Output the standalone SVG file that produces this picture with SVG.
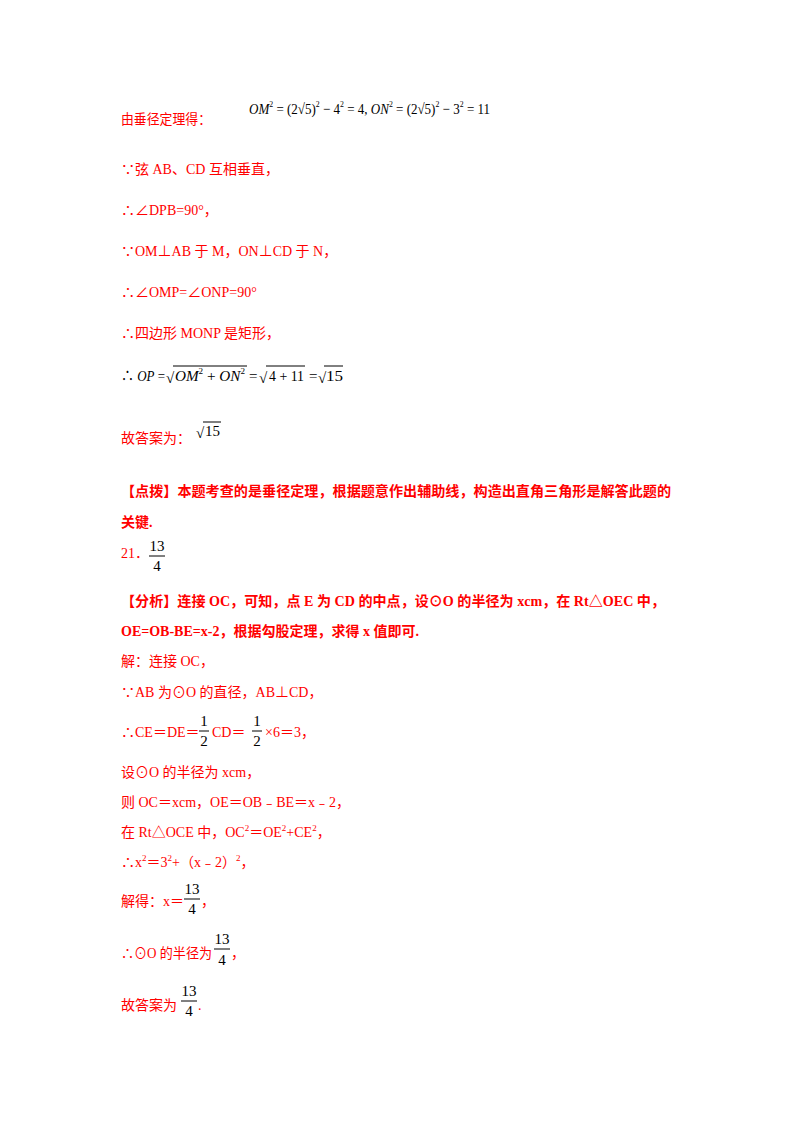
<svg xmlns="http://www.w3.org/2000/svg" width="800" height="1132" viewBox="0 0 800 1132">
<style>
text{font-family:"Liberation Serif","Noto Sans CJK SC",serif;font-size:14px}
.r{fill:#ff0000}
.b{font-weight:bold}
.k{fill:#000;font-size:15px}
.i{font-style:italic}
.s{font-size:9px}
line{stroke:#000;stroke-width:1}
</style>
<rect width="800" height="1132" fill="#fff"/>
<text x="121" y="124" class="r" textLength="90" lengthAdjust="spacingAndGlyphs">由垂径定理得：</text>
<text x="249" y="114" class="k" textLength="241" lengthAdjust="spacingAndGlyphs"><tspan class="i">OM</tspan><tspan class="s" dy="-7">2</tspan><tspan dy="7"> = (2√5)</tspan><tspan class="s" dy="-7">2</tspan><tspan dy="7"> − 4</tspan><tspan class="s" dy="-7">2</tspan><tspan dy="7"> = 4, </tspan><tspan class="i">ON</tspan><tspan class="s" dy="-7">2</tspan><tspan dy="7"> = (2√5)</tspan><tspan class="s" dy="-7">2</tspan><tspan dy="7"> − 3</tspan><tspan class="s" dy="-7">2</tspan><tspan dy="7"> = 11</tspan></text>
<text x="121" y="174" class="r">∵弦 AB、CD 互相垂直，</text>
<text x="121" y="215" class="r">∴∠DPB=90°，</text>
<text x="121" y="256" class="r">∵OM⊥AB 于 M，ON⊥CD 于 N，</text>
<text x="121" y="297" class="r">∴∠OMP=∠ONP=90°</text>
<text x="121" y="338" class="r">∴四边形 MONP 是矩形，</text>
<g class="k">
<text x="121" y="381" class="k" textLength="44" lengthAdjust="spacingAndGlyphs">∴ <tspan class="i">OP</tspan> =</text>
<text x="166" y="383" class="k">√</text>
<text x="175" y="381" class="k" textLength="70" lengthAdjust="spacingAndGlyphs"><tspan class="i">OM</tspan><tspan class="s" dy="-7">2</tspan><tspan dy="7"> + </tspan><tspan class="i">ON</tspan><tspan class="s" dy="-7">2</tspan></text>
<text x="249" y="381" class="k">=</text>
<text x="259" y="383" class="k">√</text>
<text x="269" y="381" class="k" textLength="35" lengthAdjust="spacingAndGlyphs">4 + 11</text>
<text x="309" y="381" class="k">=</text>
<text x="318" y="383" class="k">√</text>
<text x="326" y="381" class="k" textLength="17" lengthAdjust="spacingAndGlyphs">15</text>
</g>
<line x1="173" y1="366" x2="247" y2="366"/><line x1="266" y1="366" x2="305" y2="366"/><line x1="324" y1="366" x2="343" y2="366"/>
<text x="121" y="443" class="r">故答案为：</text>
<text x="196" y="438" class="k">√</text><text x="205" y="436" class="k">15</text><line x1="203" y1="422" x2="221" y2="422"/>
<text x="121" y="496" class="r b" textLength="550" lengthAdjust="spacingAndGlyphs">【点拨】本题考查的是垂径定理，根据题意作出辅助线，构造出直角三角形是解答此题的</text>
<text x="121" y="527" class="r b">关键.</text>
<text x="121" y="558" class="r">21．</text>
<text x="157" y="551" class="k" text-anchor="middle">13</text><line x1="149" y1="556" x2="165" y2="556"/><text x="157" y="571" class="k" text-anchor="middle">4</text>
<text x="121" y="606" class="r b" textLength="544" lengthAdjust="spacingAndGlyphs">【分析】连接 OC，可知，点 E 为 CD 的中点，设⊙O 的半径为 xcm，在 Rt△OEC 中，</text>
<text x="121" y="636" class="r b">OE=OB-BE=x-2，根据勾股定理，求得 x 值即可.</text>
<text x="121" y="666" class="r">解：连接 OC，</text>
<text x="121" y="697" class="r">∵AB 为⊙O 的直径，AB⊥CD，</text>
<text x="121" y="737" class="r">∴CE＝DE＝</text>
<text x="212" y="737" class="r">CD＝</text>
<text x="265" y="737" class="r">×6＝3，</text>
<text x="204" y="726" class="k" text-anchor="middle">1</text><line x1="199" y1="731" x2="209" y2="731"/><text x="204" y="746" class="k" text-anchor="middle">2</text>
<text x="257" y="726" class="k" text-anchor="middle">1</text><line x1="252" y1="731" x2="262" y2="731"/><text x="257" y="746" class="k" text-anchor="middle">2</text>
<text x="121" y="777" class="r">设⊙O 的半径为 xcm，</text>
<text x="121" y="807" class="r">则 OC＝xcm，OE＝OB﹣BE＝x﹣2，</text>
<text x="121" y="837" class="r">在 Rt△OCE 中，OC<tspan class="s" dy="-6">2</tspan><tspan dy="6">＝OE</tspan><tspan class="s" dy="-6">2</tspan><tspan dy="6">+CE</tspan><tspan class="s" dy="-6">2</tspan><tspan dy="6">，</tspan></text>
<text x="121" y="867" class="r">∴x<tspan class="s" dy="-6">2</tspan><tspan dy="6">＝3</tspan><tspan class="s" dy="-6">2</tspan><tspan dy="6">+（x﹣2）</tspan><tspan class="s" dy="-6">2</tspan><tspan dy="6">，</tspan></text>
<text x="121" y="906" class="r">解得：x＝</text><text x="201" y="906" class="r">，</text>
<text x="192" y="894" class="k" text-anchor="middle">13</text><line x1="184" y1="899" x2="200" y2="899"/><text x="192" y="914" class="k" text-anchor="middle">4</text>
<text x="121" y="958" class="r" textLength="91" lengthAdjust="spacingAndGlyphs">∴⊙O 的半径为</text><text x="231" y="958" class="r">，</text>
<text x="222" y="944" class="k" text-anchor="middle">13</text><line x1="214" y1="949" x2="230" y2="949"/><text x="222" y="965" class="k" text-anchor="middle">4</text>
<text x="121" y="1010" class="r">故答案为</text><text x="198" y="1010" class="r">.</text>
<text x="189" y="996" class="k" text-anchor="middle">13</text><line x1="181" y1="1001" x2="197" y2="1001"/><text x="189" y="1016" class="k" text-anchor="middle">4</text>
</svg>
